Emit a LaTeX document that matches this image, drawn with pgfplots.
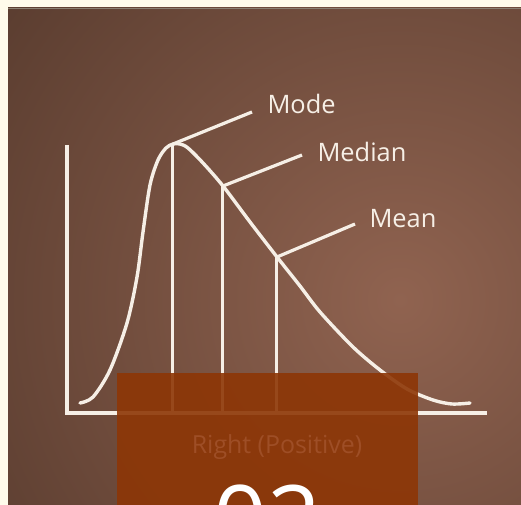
\documentclass[border=0pt]{standalone}
\usepackage{pgfplots}
\pgfplotsset{compat=1.18}
\usepackage{fontspec}
\setmainfont{Open Sans}

\definecolor{cream}{RGB}{255,251,235}
\definecolor{boardin}{RGB}{144,99,80}
\definecolor{boardout}{RGB}{58,38,28}
\definecolor{chalk}{RGB}{246,239,230}
\definecolor{boxfill}{RGB}{141,54,6}
\definecolor{boxtext}{RGB}{158,78,38}

\begin{document}
\begin{tikzpicture}[x=1bp,y=1bp]
\useasboundingbox (0,0) rectangle (521,505);
\clip (0,0) rectangle (521,505);
\fill[cream] (0,0) rectangle (521,505);
\begin{scope}
  \clip (8,0) rectangle (521,497);
  \fill[boardout] (8,0) rectangle (521,497);
  \shade[inner color=boardin, outer color=boardout] (400,205) circle (800);
\end{scope}
\draw[line width=1.5bp, color={rgb,255:red,140;green,128;blue,115}] (8,496.5) -- (521,496.5);

\begin{axis}[
  at={(0,0)}, anchor=south west,
  width=521bp, height=505bp, scale only axis,
  xmin=0, xmax=521, ymin=0, ymax=505,
  y dir=reverse,
  hide axis, clip=false,
]
% axes
\addplot[chalk, line width=3.4bp, line join=miter] coordinates {(67,145) (67,413) (487,413)};
% mode, median, mean markers
\addplot[chalk, line width=3bp] coordinates {(172,144) (172,413)};
\addplot[chalk, line width=3bp] coordinates {(222,186) (222,413)};
\addplot[chalk, line width=3bp] coordinates {(276,257) (276,413)};
% leader lines
\addplot[chalk, line width=3.2bp] coordinates {(173,144) (252,112)};
\addplot[chalk, line width=3.2bp] coordinates {(223,186) (302,155)};
\addplot[chalk, line width=3.2bp] coordinates {(277,257) (355,224)};
% right skewed curve
\addplot[chalk, line width=3.4bp, smooth, line cap=round] coordinates {
  (80,403) (93,397) (110,370) (127,323) (137,277) (143,232) (150,185)
  (158,160) (166,148) (173,144) (180,144) (188,148) (203,163)
  (223,186) (250,222) (277,257) (300,286) (320,312) (353,347)
  (380,370) (407,389) (433,400) (452,404) (470,403)
};

\node[chalk, anchor=base west, font=\fontsize{25.5}{30}\selectfont] at (axis cs:264,114) {Mode};
\node[chalk, anchor=base west, font=\fontsize{25.5}{30}\selectfont] at (axis cs:314,162) {Median};
\node[chalk, anchor=base west, font=\fontsize{25.5}{30}\selectfont] at (axis cs:366,228) {Mean};

\fill[boxfill, opacity=0.9] (axis cs:117,373) rectangle (axis cs:418,520);
\node[boxtext, anchor=base, font=\fontsize{25}{30}\selectfont] at (axis cs:277,453) {Right (Positive)};
\node[white, anchor=base, font=\fontsize{95}{110}\selectfont] at (axis cs:267.5,553) {02};
\end{axis}
\end{tikzpicture}
\end{document}
